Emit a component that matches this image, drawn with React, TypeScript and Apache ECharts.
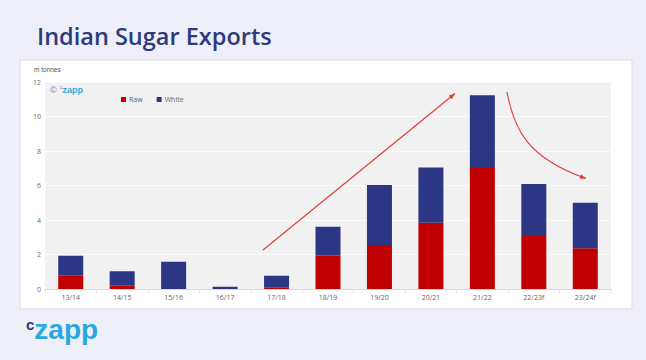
import React, { useEffect, useRef } from "react";
import * as echarts from "echarts";

const categories = ["13/14", "14/15", "15/16", "16/17", "17/18", "18/19", "19/20", "20/21", "21/22", "22/23f", "23/24f"];
const rawValues = [0.77, 0.19, 0, 0, 0.1, 1.93, 2.55, 3.84, 7.01, 3.07, 2.36];
const whiteValues = [1.16, 0.84, 1.58, 0.13, 0.67, 1.68, 3.48, 3.21, 4.22, 3.02, 2.64];
const yTicks = { min: 0, max: 12, interval: 2 };

const RED = "#c00000";
const NAVY = "#2b3784";
const ARROW = "#e0403a";

function arrowHead(tipX: number, tipY: number, fromX: number, fromY: number, len = 6, half = 2.4) {
  const dx = tipX - fromX;
  const dy = tipY - fromY;
  const l = Math.sqrt(dx * dx + dy * dy);
  const ux = dx / l;
  const uy = dy / l;
  const bx = tipX - ux * len;
  const by = tipY - uy * len;
  return [
    [tipX, tipY],
    [bx - uy * half, by + ux * half],
    [bx + uy * half, by - ux * half],
  ];
}

export default function App() {
  const ref = useRef<HTMLDivElement>(null);
  useEffect(() => {
    if (!ref.current) return;
    const chart = echarts.init(ref.current, undefined, { renderer: "svg" });
    const a1 = { x1: 263, y1: 250, x2: 455, y2: 93.5 };
    const c1 = { x1: 507, y1: 92, cpx1: 514, cpy1: 130, cpx2: 528, cpy2: 158, x2: 586, y2: 178.5 };
    chart.setOption({
      animation: false,
      backgroundColor: "#eeeff9",
      textStyle: { fontFamily: "Open Sans, Noto Sans, sans-serif" },
      grid: {
        left: 45,
        right: 35,
        top: 82,
        bottom: 71,
        show: true,
        backgroundColor: "#f1f1f1",
        borderWidth: 0,
        containLabel: false,
      },
      legend: {
        left: 116,
        top: 91,
        itemWidth: 5,
        itemHeight: 5,
        itemGap: 14,
        icon: "rect",
        textStyle: { fontSize: 7, color: "#666", padding: [0, 0, 0, -2] },
        data: ["Raw", "White"],
      },
      xAxis: {
        type: "category",
        data: categories,
        axisLine: { show: true, lineStyle: { color: "#d9d9d9", width: 1 } },
        axisTick: { show: true, length: 4, lineStyle: { color: "#e0e0e0" } },
        axisLabel: { fontSize: 7, color: "#666", margin: 5 },
      },
      yAxis: {
        type: "value",
        min: yTicks.min,
        max: yTicks.max,
        interval: yTicks.interval,
        axisLine: { show: false },
        axisTick: { show: false },
        axisLabel: { fontSize: 7, color: "#707070", margin: 4 },
        splitLine: { show: true, lineStyle: { color: "#fbfbfb", width: 1 } },
      },
      series: [
        {
          name: "Raw",
          type: "bar",
          stack: "total",
          barWidth: 25,
          itemStyle: { color: RED },
          data: rawValues,
        },
        {
          name: "White",
          type: "bar",
          stack: "total",
          barWidth: 25,
          itemStyle: { color: NAVY },
          data: whiteValues,
        },
      ],
      graphic: [
        {
          type: "rect",
          z: -1,
          shape: { x: 20, y: 60, width: 612, height: 249 },
          style: { fill: "#ffffff", stroke: "#dcdce4", lineWidth: 1 },
        },
        {
          type: "text",
          left: 37,
          top: 24,
          style: {
            text: "Indian Sugar Exports",
            fontSize: 23.5,
            fontWeight: 600,
            fontFamily: "Open Sans",
            fill: "#2d3a7c",
          },
        },
        {
          type: "text",
          x: 34,
          y: 69,
          style: { text: "m tonnes", fontSize: 6.5, fill: "#555", verticalAlign: "middle" },
        },
        {
          type: "text",
          x: 50,
          y: 90,
          style: {
            text: "{c|©} {s|c}{z|zapp}",
            verticalAlign: "middle",
            rich: {
              c: { fontSize: 9, fill: "#7b86b4" },
              s: { fontSize: 5, fill: "#7b86b4", verticalAlign: "top" },
              z: { fontSize: 9, fontWeight: "bold", fill: "#3aa6de" },
            },
          },
        },
        {
          type: "text",
          x: 26,
          y: 343,
          style: {
            text: "{s|c}{z|zapp}",
            verticalAlign: "bottom",
            rich: {
              s: { fontSize: 15, fontWeight: "bold", fill: "#2d3a7c", fontFamily: "Liberation Sans", padding: [0, 0, 10, 0] },
              z: { fontSize: 28, fontWeight: "bold", fill: "#2aa8df", fontFamily: "Liberation Sans" },
            },
          },
        },
        {
          type: "line",
          shape: a1,
          style: { stroke: ARROW, lineWidth: 1.2 },
          z: 10,
        },
        {
          type: "polygon",
          shape: { points: arrowHead(a1.x2, a1.y2, a1.x1, a1.y1) },
          style: { fill: ARROW },
          z: 10,
        },
        {
          type: "bezierCurve",
          shape: c1,
          style: { stroke: ARROW, lineWidth: 1.2, fill: "none" },
          z: 10,
        },
        {
          type: "polygon",
          shape: { points: arrowHead(c1.x2, c1.y2, c1.cpx2, c1.cpy2) },
          style: { fill: ARROW },
          z: 10,
        },
      ],
    });
    return () => chart.dispose();
  }, []);
  return (
    <div
      ref={ref}
      style={{ position: "fixed", left: 0, top: 0, width: 646, height: 360 }}
    />
  );
}
